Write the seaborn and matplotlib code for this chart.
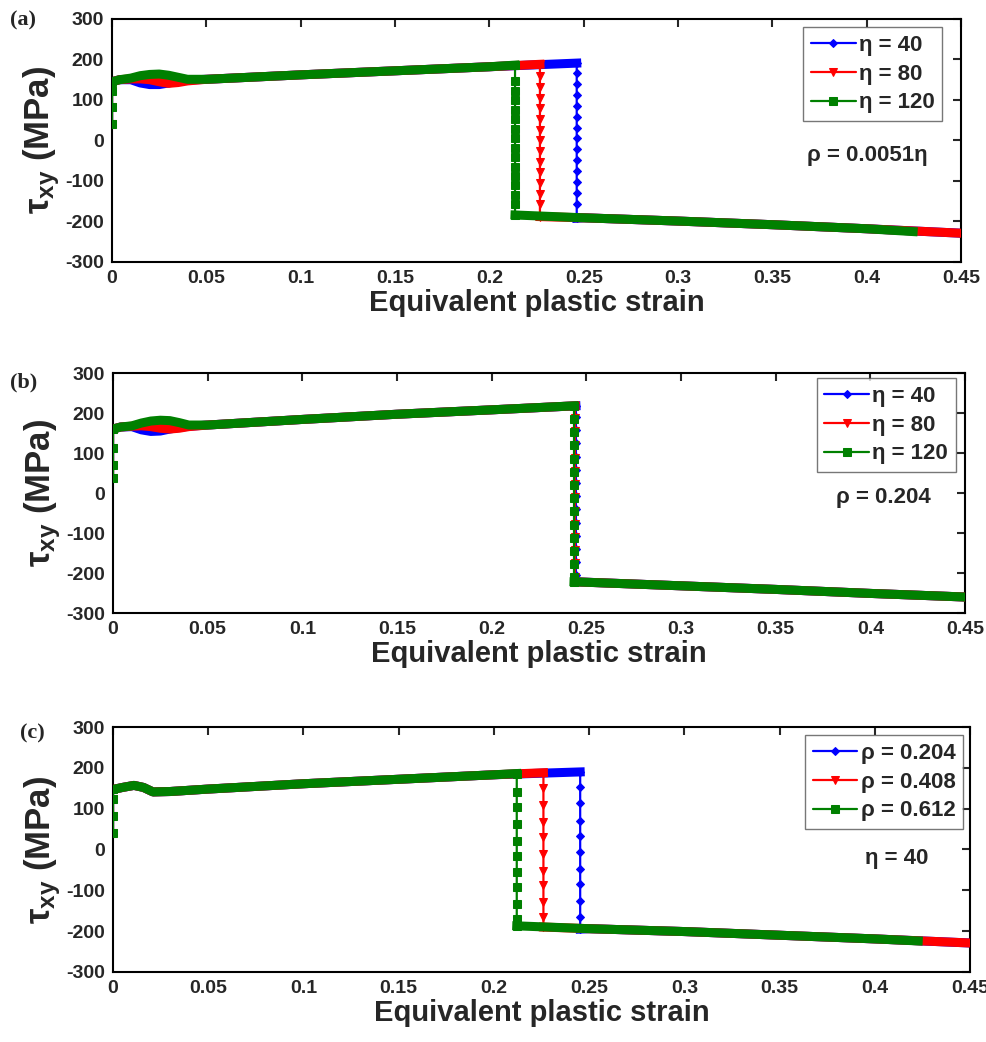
import numpy as np
import seaborn as sns
import matplotlib.pyplot as plt
from matplotlib.ticker import FuncFormatter, MultipleLocator

sns.set_theme(style="white")
plt.rcParams["font.family"] = ["Liberation Sans", "DejaVu Sans"]
plt.rcParams["font.weight"] = "bold"
plt.rcParams["axes.labelweight"] = "bold"
plt.rcParams["axes.edgecolor"] = "black"
plt.rcParams["axes.linewidth"] = 1.5
plt.rcParams["mathtext.fontset"] = "custom"
plt.rcParams["mathtext.rm"] = "Liberation Sans:bold"
plt.rcParams["mathtext.it"] = "Liberation Sans:bold"
plt.rcParams["mathtext.bf"] = "Liberation Sans:bold"

COLORS = ["#0000ff", "#ff0000", "#008000"]
MARKERS = ["D", "v", "s"]
MSIZES = [4.5, 6, 5.5]

# ---- panel (a): rho = 0.0051 eta ----
A_LABELS = ["η = 40", "η = 80", "η = 120"]
A_RISE = [40, 83, 123]
A_EARLY_STRAIN = [0, 0.004, 0.01, 0.015, 0.02, 0.025, 0.03, 0.035, 0.04, 0.05, 0.1, 0.15, 0.2]
A_TAU_40 = [145, 150, 150, 142, 138, 138, 142, 146, 149, 151, 162, 172, 182]
A_TAU_80 = [145, 150, 152, 152, 150, 145, 141, 143, 147, 151, 162, 172, 182]
A_TAU_120 = [145, 150, 154, 160, 163, 164, 161, 156, 151, 151, 162, 172, 182]
A_DROP_STRAIN = [0.2463, 0.2268, 0.2136]
A_DROP_TOP = [191, 188, 186]
A_DROP_BOTTOM = [-192, -188, -184]
A_MARKS_40 = [167, 140, 113, 86, 59, 32, 5, -22, -48, -75, -102, -129, -156]
A_MARKS_80 = [159, 132, 106, 80, 53, 27, 0, -26, -53, -79, -106, -132, -158]
A_MARKS_120 = [146, 123, 99, 76, 52, 29, 6, -18, -41, -65, -88, -111, -135, -158]
A_POST_STRAIN = [0.25, 0.3, 0.35, 0.4]
A_POST_TAU = [-191, -199, -208, -218]
A_END_STRAIN = [0.45, 0.45, 0.4246]
A_END_TAU = [-229, -229, -225]

# ---- panel (b): rho = 0.204 ----
B_LABELS = ["η = 40", "η = 80", "η = 120"]
B_RISE = [37, 70, 112]
B_EARLY_STRAIN = [0, 0.004, 0.01, 0.015, 0.02, 0.025, 0.03, 0.035, 0.04, 0.05, 0.1, 0.15, 0.2]
B_TAU_40 = [160, 165, 166, 158, 154, 155, 160, 164, 167, 170, 184, 197, 208]
B_TAU_80 = [160, 165, 167, 168, 166, 162, 160, 162, 166, 170, 184, 197, 208]
B_TAU_120 = [160, 165, 168, 175, 180, 182, 181, 176, 170, 170, 184, 197, 208]
B_DROP_STRAIN = [0.2445, 0.244, 0.2435]
B_DROP_TOP = [218, 218, 218]
B_DROP_BOTTOM = [-222, -222, -222]
B_MARKS_40 = [190, 157, 124, 91, 58, 25, -8, -41, -74, -107, -140, -173, -206]
B_MARKS_80 = [187, 154, 121, 88, 55, 22, -11, -44, -77, -110, -143, -176, -209]
B_MARKS_120 = [185, 152, 119, 86, 53, 20, -13, -46, -79, -112, -145, -178, -211]
B_POST_STRAIN = [0.3, 0.35, 0.4]
B_POST_TAU = [-232, -241, -251]
B_END_STRAIN = [0.45, 0.45, 0.45]
B_END_TAU = [-260, -260, -260]

# ---- panel (c): eta = 40 ----
C_LABELS = ["ρ = 0.204", "ρ = 0.408", "ρ = 0.612"]
C_RISE = [40, 81, 123]
C_EARLY_STRAIN = [0, 0.005, 0.011, 0.016, 0.021, 0.03, 0.05, 0.1, 0.15, 0.2]
C_TAU = [147, 152, 157, 152, 141, 142, 148, 161, 172, 183]
C_DROP_STRAIN = [0.2453, 0.226, 0.212]
C_DROP_TOP = [190, 188, 186]
C_DROP_BOTTOM = [-195, -190, -187]
C_MARKS_204 = [153, 113, 71, 34, -7, -47, -84, -125, -166]
C_MARKS_408 = [150, 108, 67, 30, -10, -52, -88, -129, -166]
C_MARKS_612 = [141, 104, 63, 22, -17, -56, -93, -133, -170]
C_POST_STRAIN = [0.25, 0.3, 0.35, 0.4]
C_POST_TAU = [-194, -201, -210, -219]
C_END_STRAIN = [0.45, 0.45, 0.4228]
C_END_TAU = [-229, -229, -224]


def build_curve(rise, early_x, early_y, drop_x, top, marks, bottom, post_x, post_y, end_x, end_y):
    xs = [0.0] * len(rise) + list(early_x) + [drop_x] * (len(marks) + 2)
    ys = list(rise) + list(early_y) + [top] + list(marks) + [bottom]
    for px, py in zip(post_x, post_y):
        if drop_x < px < end_x:
            xs.append(px)
            ys.append(py)
    xs.append(end_x)
    ys.append(end_y)
    return np.array(xs), np.array(ys, dtype=float)


def draw_panel(ax, labels, curves, anchor, note, note_xy):
    for i, (xs, ys) in enumerate(curves):
        z = 2 + i
        # dense plateau portions -> thick band; vertical jumps keep their markers
        tx, ty = [], []
        for k in range(len(xs) - 1):
            if xs[k + 1] != xs[k]:
                if not tx or tx[-1] != xs[k] or ty[-1] != ys[k]:
                    tx += [np.nan, xs[k]]
                    ty += [np.nan, ys[k]]
                tx.append(xs[k + 1])
                ty.append(ys[k + 1])
        same_prev = np.r_[False, xs[1:] == xs[:-1]]
        same_next = np.r_[xs[:-1] == xs[1:], False]
        marked = list(np.flatnonzero(same_prev | same_next))
        ax.plot(tx, ty, color=COLORS[i], lw=6.5, solid_capstyle="projecting",
                solid_joinstyle="round", zorder=z)
        sns.lineplot(x=xs, y=ys, sort=False, estimator=None, ax=ax, color=COLORS[i],
                     lw=1.6, marker=MARKERS[i], markersize=MSIZES[i], markevery=marked,
                     markeredgecolor=COLORS[i], label=labels[i], zorder=z)

    ax.set_xlim(0, 0.45)
    ax.set_ylim(-300, 300)
    ax.xaxis.set_major_locator(MultipleLocator(0.05))
    ax.yaxis.set_major_locator(MultipleLocator(100))
    ax.xaxis.set_major_formatter(FuncFormatter(lambda v, _: f"{v:g}"))
    ax.yaxis.set_major_formatter(FuncFormatter(lambda v, _: f"{v:g}"))
    ax.tick_params(direction="in", top=True, right=True, length=6, width=1.5,
                   labelsize=14, pad=6)
    for s in ax.spines.values():
        s.set_color("black")
        s.set_linewidth(1.5)
    ax.set_xlabel("Equivalent plastic strain", fontsize=21, labelpad=1)
    ax.set_ylabel(r"$\tau_{xy}$ (MPa)", fontsize=25, labelpad=2)

    leg = ax.legend(loc="upper right", bbox_to_anchor=anchor, borderaxespad=0,
                    frameon=True, fancybox=False, edgecolor="#555555",
                    prop={"size": 16, "weight": "bold"}, handlelength=2.0,
                    handletextpad=0.15, labelspacing=0.35, borderpad=0.35)
    leg.get_frame().set_linewidth(1.0)
    ax.text(note_xy[0], note_xy[1], note, transform=ax.transAxes, ha="center",
            va="center", fontsize=16, fontweight="bold")


fig = plt.figure(figsize=(9.87, 10.42), dpi=100)
ax_a = fig.add_axes([0.1135, 0.7486, 0.8602, 0.2332])
ax_b = fig.add_axes([0.1145, 0.4117, 0.8632, 0.2303])
ax_c = fig.add_axes([0.1145, 0.0672, 0.8683, 0.2351])

curves_a = [
    build_curve(A_RISE, A_EARLY_STRAIN, A_TAU_40, A_DROP_STRAIN[0], A_DROP_TOP[0], A_MARKS_40,
                A_DROP_BOTTOM[0], A_POST_STRAIN, A_POST_TAU, A_END_STRAIN[0], A_END_TAU[0]),
    build_curve(A_RISE, A_EARLY_STRAIN, A_TAU_80, A_DROP_STRAIN[1], A_DROP_TOP[1], A_MARKS_80,
                A_DROP_BOTTOM[1], A_POST_STRAIN, A_POST_TAU, A_END_STRAIN[1], A_END_TAU[1]),
    build_curve(A_RISE, A_EARLY_STRAIN, A_TAU_120, A_DROP_STRAIN[2], A_DROP_TOP[2], A_MARKS_120,
                A_DROP_BOTTOM[2], A_POST_STRAIN, A_POST_TAU, A_END_STRAIN[2], A_END_TAU[2]),
]
curves_b = [
    build_curve(B_RISE, B_EARLY_STRAIN, B_TAU_40, B_DROP_STRAIN[0], B_DROP_TOP[0], B_MARKS_40,
                B_DROP_BOTTOM[0], B_POST_STRAIN, B_POST_TAU, B_END_STRAIN[0], B_END_TAU[0]),
    build_curve(B_RISE, B_EARLY_STRAIN, B_TAU_80, B_DROP_STRAIN[1], B_DROP_TOP[1], B_MARKS_80,
                B_DROP_BOTTOM[1], B_POST_STRAIN, B_POST_TAU, B_END_STRAIN[1], B_END_TAU[1]),
    build_curve(B_RISE, B_EARLY_STRAIN, B_TAU_120, B_DROP_STRAIN[2], B_DROP_TOP[2], B_MARKS_120,
                B_DROP_BOTTOM[2], B_POST_STRAIN, B_POST_TAU, B_END_STRAIN[2], B_END_TAU[2]),
]
curves_c = [
    build_curve(C_RISE, C_EARLY_STRAIN, C_TAU, C_DROP_STRAIN[0], C_DROP_TOP[0], C_MARKS_204,
                C_DROP_BOTTOM[0], C_POST_STRAIN, C_POST_TAU, C_END_STRAIN[0], C_END_TAU[0]),
    build_curve(C_RISE, C_EARLY_STRAIN, C_TAU, C_DROP_STRAIN[1], C_DROP_TOP[1], C_MARKS_408,
                C_DROP_BOTTOM[1], C_POST_STRAIN, C_POST_TAU, C_END_STRAIN[1], C_END_TAU[1]),
    build_curve(C_RISE, C_EARLY_STRAIN, C_TAU, C_DROP_STRAIN[2], C_DROP_TOP[2], C_MARKS_612,
                C_DROP_BOTTOM[2], C_POST_STRAIN, C_POST_TAU, C_END_STRAIN[2], C_END_TAU[2]),
]

draw_panel(ax_a, A_LABELS, curves_a, (0.978, 0.967), "ρ = 0.0051η", (0.890, 0.440))
draw_panel(ax_b, B_LABELS, curves_b, (0.989, 0.979), "ρ = 0.204", (0.904, 0.481))
draw_panel(ax_c, C_LABELS, curves_c, (0.992, 0.967), "η = 40", (0.915, 0.465))

for lbl, x, y in [("(a)", 0.010, 0.980), ("(b)", 0.010, 0.633), ("(c)", 0.020, 0.296)]:
    fig.text(x, y, lbl, family=["Liberation Serif", "DejaVu Serif"], fontweight="bold",
             fontsize=16, ha="left", va="center")

fig.savefig("out.png", dpi=100)
